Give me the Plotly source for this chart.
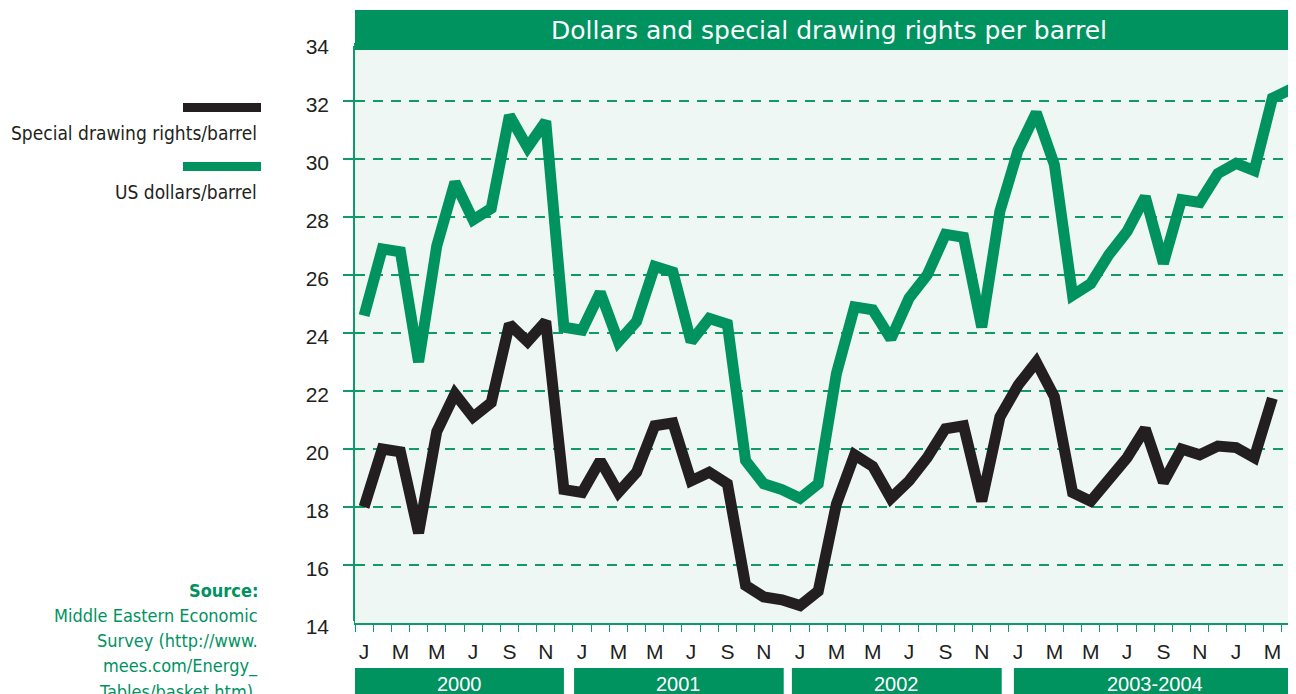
import plotly.graph_objects as go

# ---------------- data ----------------
years = [2000, 2001, 2002, 2003, 2004]
month_letters = ["J", "F", "M", "A", "M", "J", "J", "A", "S", "O", "N", "D"]
months = [f"{y}-{m:02d}" for y in years[:4] for m in range(1, 13)] + ["2004-01", "2004-02", "2004-03", "2004-04"]

usd_per_barrel = (
    [24.6, 26.9, 26.8, 23.0, 27.0, 29.2, 27.9, 28.3, 31.5, 30.4, 31.3, 24.2]     # 2000
    + [24.1, 25.4, 23.7, 24.4, 26.3, 26.1, 23.7, 24.5, 24.3, 19.6, 18.8, 18.6]   # 2001
    + [18.3, 18.8, 22.6, 24.9, 24.8, 23.8, 25.2, 26.0, 27.4, 27.3, 24.2, 28.2]   # 2002
    + [30.3, 31.6, 29.8, 25.3, 25.7, 26.7, 27.5, 28.7, 26.4, 28.6, 28.5, 29.5]   # 2003
    + [29.85, 29.6, 32.1, 32.4]                                                  # 2004
)
sdr_per_barrel = (
    [18.0, 20.0, 19.9, 17.1, 20.6, 21.9, 21.1, 21.6, 24.3, 23.7, 24.4, 18.6]     # 2000
    + [18.5, 19.6, 18.5, 19.2, 20.8, 20.9, 18.9, 19.2, 18.8, 15.3, 14.9, 14.8]   # 2001
    + [14.6, 15.1, 18.1, 19.8, 19.4, 18.3, 18.9, 19.7, 20.7, 20.8, 18.2, 21.1]   # 2002
    + [22.2, 23.0, 21.8, 18.5, 18.2, 18.9, 19.7, 20.7, 18.85, 20.0, 19.8, 20.1]  # 2003
    + [20.05, 19.7, 21.75]                                                       # 2004
)
tick_text = [month_letters[int(m[5:]) - 1] if int(m[5:]) % 2 == 1 else "" for m in months]
y_ticks = [14, 16, 18, 20, 22, 24, 26, 28, 30, 32, 34]
year_labels = ["2000", "2001", "2002", "2003-2004"]

title_text = "Dollars and special drawing rights per barrel"
legend_labels = ["Special drawing rights/barrel", "US dollars/barrel"]
source_lines = ["Middle Eastern Economic", "Survey (http://www.", "mees.com/Energy_", "Tables/basket.htm)."]

# ---------------- style ----------------
GREEN = "#00925f"
BLACK = "#231f20"
BG = "#eef7f3"
GRID = "#0f9a68"
W, H = 1296, 694
# page has an 8px body margin: figure coords = screen coords - 8
ML, MR, MT, MB = 347, 8, 35, 79
PW, PH = W - ML - MR, H - MT - MB
NARROW = "Liberation Sans Narrow, Arial Narrow, DejaVu Sans Condensed, sans-serif"
REG = "Liberation Sans, Arial, sans-serif"
X_RANGE = [-0.5, 51.3]
# year band edges along the category axis (layout only)
BAND_EDGES = [(-0.5, 11.0), (11.56, 23.1), (23.55, 35.1), (35.77, 53.0)]


def px(x):
    # screen x -> paper
    return (x - 8 - ML) / PW


def py(y):
    # screen y -> paper
    return (H - MB - (y - 8)) / PH


fig = go.Figure()
fig.add_trace(go.Scatter(x=months[:len(usd_per_barrel)], y=usd_per_barrel, mode="lines",
                         line=dict(color=GREEN, width=11), showlegend=False, name=legend_labels[1]))
fig.add_trace(go.Scatter(x=months[:len(sdr_per_barrel)], y=sdr_per_barrel, mode="lines",
                         line=dict(color=BLACK, width=11), showlegend=False, name=legend_labels[0]))

shapes = []
annotations = []

# title bar
shapes.append(dict(type="rect", xref="paper", yref="paper", x0=0, x1=1.02, y0=py(50), y1=py(10),
                   fillcolor=GREEN, line=dict(width=0), layer="above"))
annotations.append(dict(text=title_text, xref="paper", yref="paper", x=px(829), y=py(31),
                        showarrow=False, xanchor="center", yanchor="middle",
                        font=dict(family="DejaVu Sans, sans-serif", size=25, color="white")))
# hide outer ticks at the top and bottom of the value axis
for yy in (44, 623):
    shapes.append(dict(type="rect", xref="paper", yref="paper", x0=px(343), x1=px(354),
                       y0=py(yy + 2), y1=py(yy - 2), fillcolor="white", line=dict(width=0), layer="above"))

# year bars
for label, (x0, x1) in zip(year_labels, BAND_EDGES):
    shapes.append(dict(type="rect", xref="x", yref="paper", x0=x0, x1=x1, y0=py(704), y1=py(668),
                       fillcolor=GREEN, line=dict(width=0)))
    annotations.append(dict(text=label, xref="x", yref="paper", x=(x0 + min(x1, X_RANGE[1])) / 2, y=py(684),
                            showarrow=False, xanchor="center", yanchor="middle",
                            font=dict(family=REG, size=20, color="white")))

# legend
for i, (lab, col) in enumerate(zip(legend_labels, [BLACK, GREEN])):
    ytop = 103 + 59 * i
    shapes.append(dict(type="rect", xref="paper", yref="paper", x0=px(183), x1=px(261),
                       y0=py(ytop + 9), y1=py(ytop), fillcolor=col, line=dict(width=0)))
    annotations.append(dict(text=lab, xref="paper", yref="paper", x=px(259), y=py(ytop + 30),
                            showarrow=False, xanchor="right", yanchor="middle",
                            font=dict(family=NARROW, size=19, color=BLACK)))

# source
annotations.append(dict(text="<b>Source:</b>", xref="paper", yref="paper", x=px(260), y=py(590),
                        showarrow=False, xanchor="right", yanchor="middle",
                        font=dict(family=NARROW, size=18, color=GREEN)))
for k, line in enumerate(source_lines):
    annotations.append(dict(text=line, xref="paper", yref="paper", x=px(260), y=py(615 + 25.6 * k),
                            showarrow=False, xanchor="right", yanchor="middle",
                            font=dict(family=NARROW, size=18, color=GREEN)))

fig.update_layout(
    width=W, height=H,
    margin=dict(l=ML, r=MR, t=MT, b=MB, pad=0),
    paper_bgcolor="white", plot_bgcolor=BG,
    shapes=shapes, annotations=annotations,
    showlegend=False,
    xaxis=dict(type="category", range=X_RANGE, tickmode="array", tickvals=months, ticktext=tick_text,
               tickson="boundaries", ticks="outside", ticklen=7, tickcolor=GRID, tickwidth=1,
               tickangle=0, ticklabelstandoff=9, showgrid=False, showline=True, linecolor=GRID,
               linewidth=1.5, zeroline=False,
               tickfont=dict(family=REG, size=21, color=BLACK), fixedrange=True),
    yaxis=dict(range=[14, 34], tickmode="array", tickvals=y_ticks, ticks="outside", ticklen=10,
               tickcolor=GRID, tickwidth=1.5, showgrid=True, gridcolor=GRID, gridwidth=1.5,
               griddash="10px,8px", showline=True, linecolor=GRID, linewidth=1.5, zeroline=False,
               ticklabelstandoff=10, ticklabelshift=4,
               tickfont=dict(family=REG, size=21, color=BLACK), fixedrange=True),
)

fig.write_html("out.html")
